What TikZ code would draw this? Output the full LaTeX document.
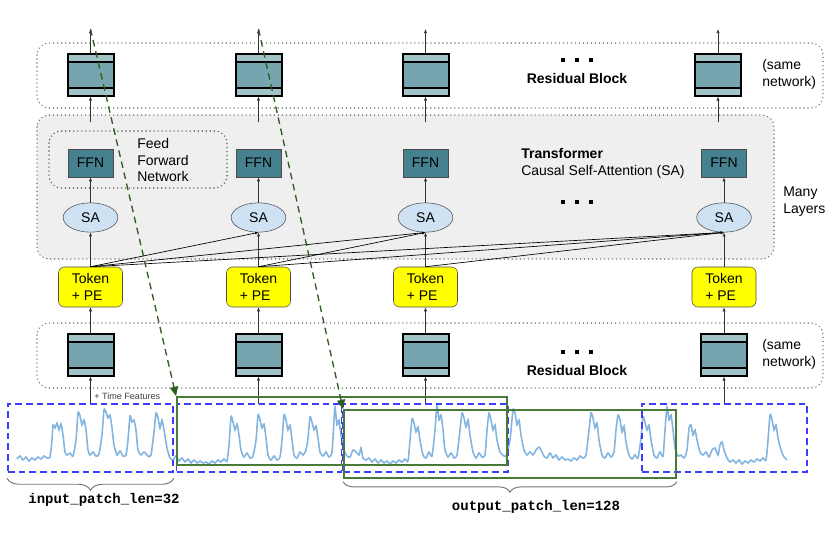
\documentclass[tikz,border=0pt]{standalone}
\usepackage{fontspec}
\setmainfont{Liberation Sans}
\setmonofont{Liberation Mono}
\usepackage{color}
\usetikzlibrary{arrows.meta,shapes.geometric,decorations.pathreplacing}
\definecolor{reslt}{HTML}{A2C4C9}
\definecolor{resmid}{HTML}{76A5AF}
\definecolor{ffnc}{HTML}{45818E}
\definecolor{sac}{HTML}{CFE2F3}
\definecolor{tokc}{HTML}{FFFF00}
\definecolor{boxgray}{HTML}{EFEFEF}
\definecolor{dotgray}{HTML}{7A7A7A}
\definecolor{patchblue}{HTML}{3D3DFF}
\definecolor{patchgreen}{HTML}{4A7A37}
\definecolor{arrgreen}{HTML}{2F5E1E}
\definecolor{seriesc}{HTML}{6FA8DC}
\tikzset{
  resblk/.style={draw=black, line width=1.5pt, fill=resmid, minimum width=34.5pt,
    minimum height=31.5pt, inner sep=0pt,
    path picture={
      \fill[reslt] (path picture bounding box.north west) rectangle ([yshift=-6pt]path picture bounding box.north east);
      \fill[reslt] (path picture bounding box.south west) rectangle ([yshift=6pt]path picture bounding box.south east);
      \draw[line width=1.5pt] ([yshift=-6pt]path picture bounding box.north west) -- ([yshift=-6pt]path picture bounding box.north east);
      \draw[line width=1.5pt] ([yshift=6pt]path picture bounding box.south west) -- ([yshift=6pt]path picture bounding box.south east);
    }},
  ffn/.style={draw=black!70, fill=ffnc, minimum width=33.75pt, minimum height=21pt, inner sep=0pt},
  sa/.style={ellipse, draw=black!70, fill=sac, minimum width=41pt, minimum height=22pt, inner sep=0pt},
  token/.style={draw=black!70, fill=tokc, rounded corners=4.5pt, minimum width=48pt,
    minimum height=30pt, align=left, inner sep=0pt},
  dotbox/.style={draw=dotgray, line width=1.2pt, dash pattern=on 0.01pt off 3pt, line cap=round, rounded corners=9pt},
  inpatch/.style={draw=patchblue, line width=1.4pt, dash pattern=on 5pt off 3pt,
    minimum width=123.75pt, minimum height=51pt, inner sep=0pt},
  outpatch/.style={draw=patchgreen, line width=1.4pt, minimum height=51pt, inner sep=0pt},
  flow/.style={-{Latex[length=3pt,width=2.5pt]}, black!80, line width=0.5pt},
  attn/.style={-{Latex[length=2.5pt,width=2pt]}, black, line width=0.5pt},
  shiftarr/.style={-{Triangle[length=7pt,width=6pt]}, arrgreen, line width=1pt, dash pattern=on 5pt off 3.5pt},
  lbl/.style={inner sep=0pt, align=left, anchor=west},
  bracec/.style={decorate, draw=black!55, line width=0.7pt}
}
\begin{document}
\begin{tikzpicture}[x=0.75pt, y=-0.75pt, font=\fontsize{10.5}{12.6}\selectfont]
\useasboundingbox (0,0) rectangle (837,537);

% boxes behind
\draw[dotbox] (37,43) rectangle (823,108);
\draw[dotbox, fill=boxgray] (37,115) rectangle (774,259);
\draw[dotbox, draw=black!65] (49,131) rectangle (227,188);
\draw[dotbox] (37,323) rectangle (823,388);

% columns
\foreach \i/\x/\xt in {1/90.5/90.5, 2/258.5/258.5, 3/425.5/425.5, 4/724/718}{
  \node[resblk] (rtop\i) at (\xt,74.5) {};
  \node[ffn] (ffn\i) at (\x,163) {FFN};
  \node[sa] (sa\i) at (\x,217.5) {SA};
  \node[token] (tok\i) at (\x,287) {Token\\+ PE};
  \node[resblk] (rbot\i) at (\x,354.5) {};
  \coordinate (out\i) at (\xt,29);
  \coordinate (tf\i) at (\xt,122);
  \coordinate (in\i) at (\x,404);
  \draw[flow] (in\i) -- (rbot\i);
  \draw[flow] (rbot\i) -- (tok\i);
  \draw[flow] (tok\i) -- (sa\i);
  \draw[flow] (sa\i) -- (ffn\i);
  \draw[flow] (tf\i) -- (rtop\i);
  \draw[flow] (rtop\i) -- (out\i);
}

% causal attention
\foreach \a/\b in {1/2,1/3,1/4,2/3,2/4,3/4}
  \draw[attn] (tok\a.north) -- (sa\b.south);

% labels
\node[font=\fontsize{10.5}{12.6}\bfseries] (restop) at (577,78) {Residual Block};
\node[font=\fontsize{10.5}{12.6}\bfseries] (resbot) at (577,370) {Residual Block};
\node[lbl] (sametop) at (762,74) {(same\\network)};
\node[lbl] (samebot) at (762,354) {(same\\network)};
\node[lbl] (layers) at (783,201.5) {Many\\Layers};
\node[lbl] (trf) at (521,163) {\textbf{Transformer}\\Causal Self-Attention (SA)};
\node[lbl] (ffnlbl) at (137,160) {Feed\\Forward\\Network};
\node[lbl, font=\fontsize{6.8}{8}\selectfont, text=black!75] (timef) at (94,396) {+ Time Features};
\foreach \y in {60,352,202}
  \foreach \x in {563,577,591}
    \fill (\x-2,\y-2) rectangle (\x+2,\y+2);

% series
\draw[seriesc, line width=1.2pt, opacity=0.85] plot[smooth, tension=0.4] coordinates {
(17,459) (20,456) (23,460) (26,457) (29,461) (32,458) (35,460) (38,457) (41,459) (44,456) (47,458) (50,457)
(52,440) (53,425) (55,428) (57,423) (59,430) (61,424) (63,435) (65,452) (67,455) (70,453) (73,456)
(76,440) (78,413) (80,416) (82,425) (84,420) (86,430) (88,450) (90,455) (93,452) (96,456) (99,454)
(102,435) (104,410) (106,412) (108,418) (110,415) (112,428) (114,445) (117,455) (120,451) (123,456) (126,455)
(128,440) (130,416) (132,422) (134,420) (136,430) (138,450) (141,455) (144,452) (148,456) (151,455)
(154,432) (156,413) (158,418) (160,428) (162,420) (164,430) (167,448) (170,458) (173,460)
(176,456) (179,461) (182,458) (185,462) (188,459) (191,463) (194,460) (197,463) (200,461) (203,463) (206,462)
(209,464) (212,461) (215,463) (218,460) (221,462) (224,459) (227,461)
(229,445) (231,417) (233,422) (235,430) (237,424) (239,435) (241,450) (244,457) (247,453) (250,458) (253,456)
(256,440) (258,415) (260,420) (262,428) (264,424) (266,438) (268,455) (271,460) (274,456) (277,460) (280,457)
(282,440) (284,415) (286,420) (288,430) (290,425) (292,440) (294,455) (297,458) (300,452) (303,455) (306,450)
(308,438) (310,417) (312,422) (314,430) (316,426) (318,438) (320,452) (323,456) (326,452) (329,457) (332,452)
(334,420) (335,407) (337,425) (339,420) (341,435) (344,450) (347,456) (350,457) (353,450) (356,452) (359,455)
(361,448) (363,458) (366,460) (369,458) (372,462) (375,459) (378,463) (381,460) (384,463) (387,461) (390,464)
(393,461) (396,463) (399,460) (402,462) (405,459) (408,461)
(410,440) (412,419) (414,423) (416,432) (418,427) (420,440) (423,455) (426,458) (429,452) (432,456)
(435,430) (437,405) (439,420) (441,415) (443,430) (445,450) (448,457) (451,453) (454,458) (457,455)
(460,430) (462,413) (464,418) (466,427) (468,420) (470,435) (473,452) (476,458) (479,453) (482,457) (485,455)
(487,430) (489,413) (491,420) (493,430) (495,425) (497,440) (500,452) (503,455)
(506,456) (510,440) (513,410) (515,413) (517,425) (519,420) (521,435) (524,450) (527,455) (530,452) (533,455)
(536,450) (539,447) (541,450) (544,456) (547,458) (550,453) (553,458) (556,455) (559,460) (562,457) (565,460)
(568,459) (571,461) (574,458) (577,460) (580,456) (583,458) (586,455)
(589,430) (591,413) (593,418) (595,428) (597,423) (599,440) (602,455) (605,458) (608,453) (611,457) (614,452)
(616,430) (618,415) (620,420) (622,432) (624,426) (626,442) (629,455) (632,459) (635,455) (638,458)
(641,438) (643,417) (645,422) (647,430) (649,425) (651,440) (654,455) (657,458) (660,452) (663,456)
(665,430) (667,407) (669,420) (671,415) (673,430) (675,448) (678,456) (681,455) (684,458)
(687,450) (689,428) (691,425) (693,435) (695,430) (697,440) (700,452) (703,455) (706,452) (709,457)
(712,450) (715,448) (718,455) (720,445) (722,442) (724,450) (727,458) (730,462) (733,460) (736,463) (739,460)
(742,464) (745,461) (748,463) (751,460) (754,462) (757,459) (760,461) (763,458) (766,460)
(768,440) (770,415) (772,420) (774,430) (776,425) (778,438) (781,450) (784,457) (787,460)
};

% patches
\node[inpatch] (ip1) at (90.5,438) {};
\node[inpatch] (ip2) at (259,438) {};
\node[inpatch] (ip3) at (425.5,438) {};
\node[inpatch] (ip4) at (724.5,438) {};
\node[outpatch, minimum width=247.5pt] (op1) at (342,431) {};
\node[outpatch, minimum width=249pt] (op2) at (510,444) {};

% shifted outputs
\draw[shiftarr] (out1) -- (op1.north west);
\draw[shiftarr] (out2) -- (op2.north west);

% braces
\draw[bracec, decoration={brace, mirror, amplitude=9pt}] ([yshift=-4pt]ip1.south west) -- ([yshift=-4pt]ip1.south east);
\node[font=\fontsize{10.5}{12}\ttfamily\bfseries] (inlen) at (104,500) {input\_patch\_len=32};
\draw[bracec, decoration={brace, mirror, amplitude=8pt}] ([yshift=-2pt]op2.south west) -- ([yshift=-2pt]op2.south east);
\node[font=\fontsize{10.5}{12}\ttfamily\bfseries] (outlen) at (536,507) {output\_patch\_len=128};
\end{tikzpicture}
\end{document}
